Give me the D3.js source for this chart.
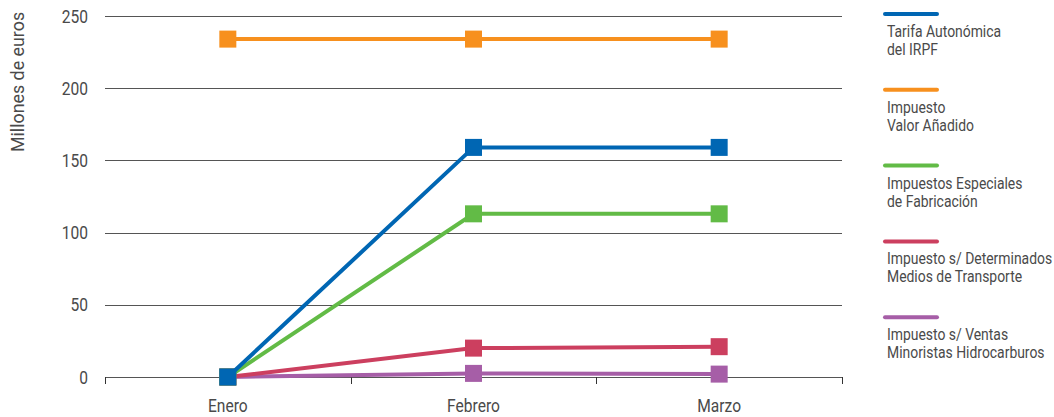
<!DOCTYPE html>
<html>
<head>
<meta charset="utf-8">
<script src="https://cdn.jsdelivr.net/npm/d3@7"></script>
<style>
body { margin: 0; background: #fff; }
text { font-family: Roboto, sans-serif; font-weight: 400; fill: #4a4a4a; }
</style>
</head>
<body>
<div class="svg"></div>
<script>
var months = ["Enero", "Febrero", "Marzo"];
var yTicks = [0, 50, 100, 150, 200, 250];
var names = [
	["Tarifa Autonómica", "del IRPF"],
	["Impuesto", "Valor Añadido"],
	["Impuestos Especiales", "de Fabricación"],
	["Impuesto s/ Determinados", "Medios de Transporte"],
	["Impuesto s/ Ventas", "Minoristas Hidrocarburos"]
];
var colors = ["#0066b3", "#f7901e", "#62bb46", "#cc3f5f", "#a65ea7"];
var irpf = [0, 159, 159];
var iva = [234, 234, 234];
var especiales = [0, 113, 113];
var transporte = [0, 20, 21];
var hidrocarburos = [0, 2.5, 2];

var series = [irpf, iva, especiales, transporte, hidrocarburos];

var width = 1054, height = 417;
var margin = {top: 16, right: 212, bottom: 40, left: 105};

var svg = d3.select("div.svg").append("svg")
	.attr("width", width)
	.attr("height", height);

// text helper: narrow the glyphs horizontally
function label(parent, px, py, str, size, anchor, rot, sq) {
	var g = parent.append("g")
		.attr("transform", "translate(" + px + "," + py + ")" + (rot ? " rotate(" + rot + ")" : "") + " scale(" + (sq || 0.82) + ",1)");
	return g.append("text")
		.attr("font-size", size)
		.attr("text-anchor", anchor || "start")
		.text(str);
}

var x = d3.scaleBand()
	.domain(months)
	.range([margin.left, width - margin.right]);

var y = d3.scaleLinear()
	.domain([0, 250])
	.range([height - margin.bottom, margin.top]);

// gridlines
svg.append("g")
	.selectAll("line")
	.data(yTicks)
	.enter().append("line")
	.attr("x1", margin.left)
	.attr("x2", width - margin.right)
	.attr("y1", d => Math.round(y(d)) + 0.5)
	.attr("y2", d => Math.round(y(d)) + 0.5)
	.attr("stroke", "#555")
	.attr("stroke-width", 1);

// y labels
var yl = svg.append("g");
yTicks.forEach(function(d) {
	label(yl, 88, y(d) + 6.5, d, 19, "end");
});

// x axis ticks at band boundaries
var bounds = months.map(m => x(m)).concat([x.range()[1]]);
svg.append("g")
	.selectAll("line")
	.data(bounds)
	.enter().append("line")
	.attr("x1", d => Math.round(d) + 0.5)
	.attr("x2", d => Math.round(d) + 0.5)
	.attr("y1", y(0))
	.attr("y2", y(0) + 7)
	.attr("stroke", "#333");

var xl = svg.append("g");
months.forEach(function(m) {
	label(xl, x(m) + x.bandwidth() / 2, y(0) + 35, m, 19, "middle");
});

label(svg, 24, 82, "Millones de euros", 19, "middle", -90, 0.94);

var line = d3.line()
	.x((d, i) => x(months[i]) + x.bandwidth() / 2)
	.y(d => y(d));

// draw back to front so blue sits on top
var order = [4, 3, 2, 1, 0];
order.forEach(function(k) {
	var g = svg.append("g");
	g.append("path")
		.datum(series[k])
		.attr("fill", "none")
		.attr("stroke", colors[k])
		.attr("stroke-width", 4)
		.attr("d", line);
	g.selectAll("rect")
		.data(series[k])
		.enter().append("rect")
		.attr("x", (d, i) => x(months[i]) + x.bandwidth() / 2 - 8.5)
		.attr("y", d => y(d) - 8.5)
		.attr("width", 17)
		.attr("height", 17)
		.attr("fill", colors[k]);
});

// legend
var legend = svg.append("g")
	.selectAll("g")
	.data(names)
	.enter().append("g")
	.attr("transform", (d, i) => "translate(885," + (14 + i * 75.8) + ")");

legend.append("line")
	.attr("x1", 0).attr("x2", 52)
	.attr("y1", 0).attr("y2", 0)
	.attr("stroke", (d, i) => colors[i])
	.attr("stroke-width", 4)
	.attr("stroke-linecap", "round");

legend.each(function(d) {
	var t = d3.select(this);
	d.forEach(function(s, j) {
		label(t, 2, 23 + j * 18, s, 16, "start", 0, 0.87);
	});
});
</script>
</body>
</html>
